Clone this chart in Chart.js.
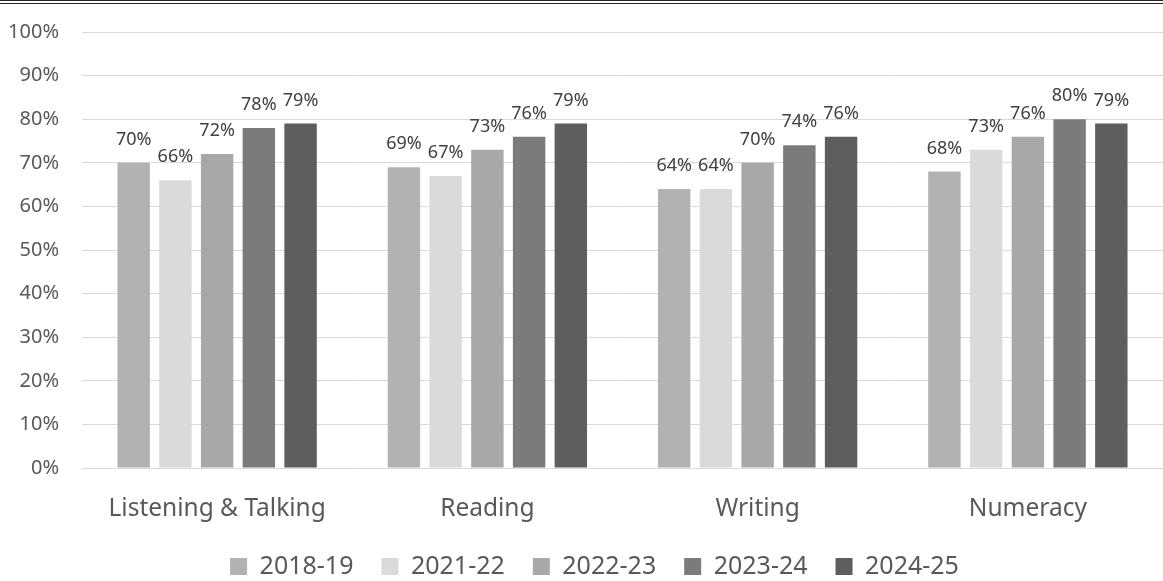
<!DOCTYPE html>
<html>
<head>
<meta charset="utf-8">
<script src="https://cdn.jsdelivr.net/npm/chart.js@4.4.1/dist/chart.umd.min.js"></script>
<style>
  html, body { margin: 0; padding: 0; background: #fff; }
  #wrap { width: 1163px; height: 581px; box-sizing: border-box; border-top: 4px double #222; }
  #wrap canvas { display: block; }
</style>
</head>
<body>
<div id="wrap"><canvas id="bar"></canvas></div>
<script>
// attainment by curriculum area, one series per school year
const areas = ['Listening & Talking', 'Reading', 'Writing', 'Numeracy']
const years = ['2018-19', '2021-22', '2022-23', '2023-24', '2024-25']
const y2018 = [70, 69, 64, 68]
const y2021 = [66, 67, 64, 73]
const y2022 = [72, 73, 70, 76]
const y2023 = [78, 76, 74, 80]
const y2024 = [79, 79, 76, 79]
const yTicks = [0, 10, 20, 30, 40, 50, 60, 70, 80, 90, 100]

const series = [y2018, y2021, y2022, y2023, y2024]
const colours = ['#b2b2b2', '#dadada', '#a8a8a8', '#7b7b7b', '#5e5e5e']
const family = '"Noto Sans", sans-serif'

// percentage above each bar
const valueLabels = {
  id: 'valueLabels',
  afterDatasetsDraw(chart) {
    const { ctx } = chart
    ctx.save()
    ctx.font = '18px ' + family
    ctx.fillStyle = '#404040'
    ctx.textAlign = 'center'
    ctx.textBaseline = 'alphabetic'
    chart.data.datasets.forEach((ds, i) => {
      chart.getDatasetMeta(i).data.forEach((bar, j) => {
        ctx.fillText(ds.data[j] + '%', bar.x, bar.y - 18)
      })
    })
    ctx.restore()
  },
}

// centre the legend under the plot area rather than the whole canvas
const legendShift = {
  id: 'legendShift',
  afterLayout(chart) {
    if (chart.legend) chart.legend.left += 26
  },
}

new Chart(document.getElementById('bar'), {
  type: 'bar',
  data: {
    labels: areas,
    datasets: years.map((y, i) => ({
      label: y,
      data: series[i],
      backgroundColor: colours[i],
      categoryPercentage: 0.772,
      barPercentage: 0.777,
    })),
  },
  options: {
    responsive: true,
    maintainAspectRatio: false,
    animation: false,
    layout: { padding: { top: 28, left: 0, right: 0, bottom: 0 } },
    plugins: {
      tooltip: { enabled: false },
      legend: {
        position: 'bottom',
        maxHeight: 55,
        labels: {
          boxWidth: 17,
          boxHeight: 17,
          padding: 28,
          color: '#595959',
          font: { family, size: 25 },
        },
      },
    },
    scales: {
      x: {
        grid: { display: false, drawTicks: false },
        border: { color: '#d9d9d9' },
        ticks: { color: '#595959', padding: 26, font: { family, size: 24.5 } },
        afterFit(scale) { scale.height = 58 },
      },
      y: {
        min: 0,
        max: 100,
        grid: { color: '#d9d9d9', drawTicks: false },
        border: { display: false },
        afterBuildTicks(scale) { scale.ticks = yTicks.map(v => ({ value: v })) },
        ticks: {
          padding: 23,
          color: '#595959',
          font: { family, size: 20 },
          callback: v => v + '%',
        },
        afterFit(scale) {
          scale.width = 82
          scale.paddingTop = 0
          scale.paddingBottom = 0
        },
      },
    },
  },
  plugins: [valueLabels, legendShift],
})
</script>
</body>
</html>
